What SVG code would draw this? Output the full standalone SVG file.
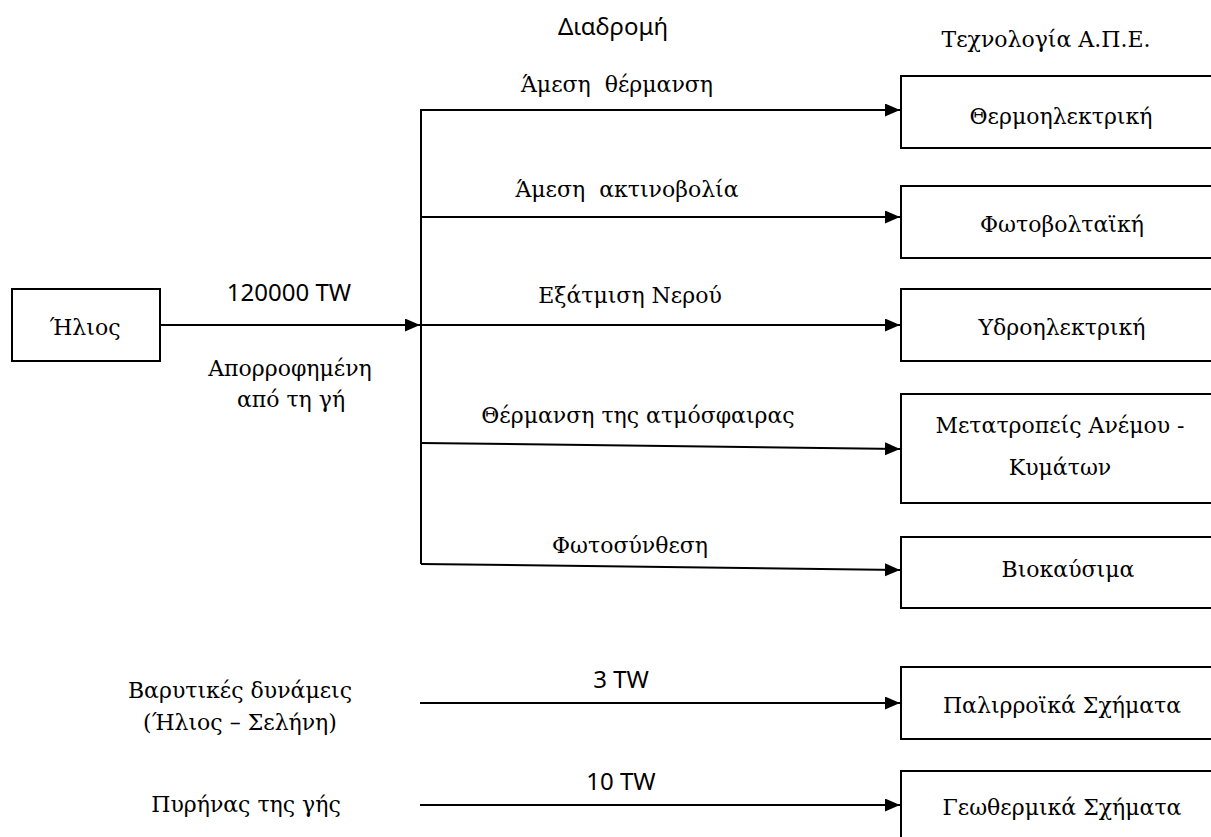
<svg xmlns="http://www.w3.org/2000/svg" width="1211" height="837" viewBox="0 0 1211 837">
<style>
.box{fill:#fff;stroke:#000;stroke-width:2}
.ln{fill:none;stroke:#000;stroke-width:2}
.s{font-family:"DejaVu Serif","Liberation Serif",serif;font-size:22px;fill:#000;text-anchor:middle;white-space:pre}
.n{font-family:"Noto Sans","Open Sans",sans-serif;font-size:24px;fill:#000;text-anchor:middle}
</style>
<defs>
<marker id="arr" markerUnits="userSpaceOnUse" markerWidth="16" markerHeight="14" refX="15" refY="6.5" orient="auto">
<path d="M0,0 L15,6.5 L0,13 z" fill="#000"/>
</marker>
</defs>
<rect width="1211" height="837" fill="#fff"/>
<g id="headers">
<text class="n" x="613" y="35">Διαδρομή</text>
<text class="s" x="1046" y="47">Τεχνολογία Α.Π.Ε.</text>
</g>
<g id="connectors">
<line class="ln" x1="160" y1="325" x2="420" y2="325" marker-end="url(#arr)"/>
<line class="ln" x1="421" y1="109" x2="421" y2="564"/>
<line class="ln" x1="421" y1="110" x2="900" y2="110" marker-end="url(#arr)"/>
<line class="ln" x1="421" y1="217" x2="900" y2="217" marker-end="url(#arr)"/>
<line class="ln" x1="421" y1="325" x2="900" y2="325" marker-end="url(#arr)"/>
<line class="ln" x1="421" y1="443" x2="900" y2="449" marker-end="url(#arr)"/>
<line class="ln" x1="421" y1="564" x2="900" y2="570" marker-end="url(#arr)"/>
<line class="ln" x1="420" y1="703" x2="900" y2="703" marker-end="url(#arr)"/>
<line class="ln" x1="420" y1="805" x2="900" y2="805" marker-end="url(#arr)"/>
<text class="s" x="617" y="92" xml:space="preserve">Άμεση  θέρμανση</text>
<text class="s" x="627" y="197" xml:space="preserve">Άμεση  ακτινοβολία</text>
<text class="s" x="630" y="303">Εξάτμιση Νερού</text>
<text class="s" x="638" y="423">Θέρμανση της ατμόσφαιρας</text>
<text class="s" x="630" y="553">Φωτοσύνθεση</text>
<text class="n" x="289" y="301">120000 TW</text>
<text class="s" x="290" y="376">Απορροφημένη</text>
<text class="s" x="291" y="407">από τη γή</text>
<text class="n" x="621" y="688">3 TW</text>
<text class="n" x="621" y="790">10 TW</text>
</g>
<g id="sun">
<rect class="box" x="12" y="289" width="148" height="72"/>
<text class="s" x="85" y="335">Ήλιος</text>
</g>
<g id="gravity">
<text class="s" x="240" y="698">Βαρυτικές δυνάμεις</text>
<text class="s" x="240" y="730">(Ήλιος – Σελήνη)</text>
</g>
<g id="core">
<text class="s" x="246" y="812">Πυρήνας της γής</text>
</g>
<g id="thermo">
<rect class="box" x="901" y="76" width="320" height="72"/>
<text class="s" x="1061" y="124">Θερμοηλεκτρική</text>
</g>
<g id="pv">
<rect class="box" x="901" y="186" width="320" height="72"/>
<text class="s" x="1062" y="232">Φωτοβολταϊκή</text>
</g>
<g id="hydro">
<rect class="box" x="901" y="289" width="320" height="72"/>
<text class="s" x="1062" y="335">Υδροηλεκτρική</text>
</g>
<g id="wind">
<rect class="box" x="901" y="394" width="320" height="109"/>
<text class="s" x="1060" y="433">Μετατροπείς Ανέμου -</text>
<text class="s" x="1060" y="475">Κυμάτων</text>
</g>
<g id="bio">
<rect class="box" x="901" y="537" width="320" height="71"/>
<text class="s" x="1068" y="577">Βιοκαύσιμα</text>
</g>
<g id="tidal">
<rect class="box" x="901" y="667" width="320" height="72"/>
<text class="s" x="1062" y="713">Παλιρροϊκά Σχήματα</text>
</g>
<g id="geo">
<rect class="box" x="901" y="771" width="320" height="80"/>
<text class="s" x="1062" y="815">Γεωθερμικά Σχήματα</text>
</g>
</svg>
